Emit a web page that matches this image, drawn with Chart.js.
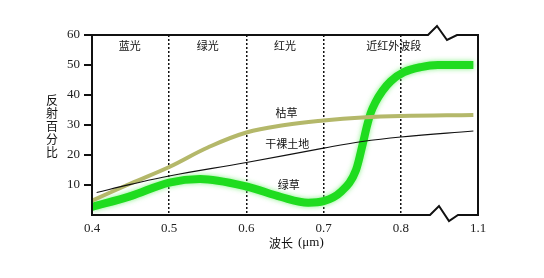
<!DOCTYPE html>
<html>
<head>
<meta charset="utf-8">
<script src="https://cdn.jsdelivr.net/npm/chart.js@4.4.1/dist/chart.umd.min.js"></script>
<style>
	html, body { margin: 0; padding: 0; background: #fff; }
	#wrap { width: 544px; height: 278px; }
</style>
</head>
<body>
<div id="wrap"><canvas id="chart" width="544" height="278"></canvas></div>
<script>
	// wavelength (µm) and reflectance (%)
	var greenX = [0.40, 0.45, 0.50, 0.54, 0.60, 0.645, 0.68, 0.70, 0.722, 0.742, 0.751, 0.756, 0.761, 0.767, 0.776, 0.787, 0.804, 0.826, 0.848, 0.894];
	var greenY = [2.7, 6.3, 10.8, 12, 9.5, 6, 4.1, 4.6, 7.6, 15, 24, 29.5, 34, 37.5, 41.3, 44.6, 47.6, 49.3, 50, 50];
	var dryX = [0.40, 0.45, 0.50, 0.55, 0.60, 0.65, 0.70, 0.75, 0.80, 0.894];
	var dryY = [4.8, 10.5, 16, 22.5, 27.5, 30, 31.5, 32.5, 33, 33.3];
	var soilX = [0.406, 0.45, 0.50, 0.60, 0.70, 0.75, 0.80, 0.894];
	var soilY = [7.5, 10.2, 13, 17.5, 22.3, 24.5, 26, 28];

	// last tick sits after the axis break and reads 1.1
	var xTickLabels = {'0.4': '0.4', '0.5': '0.5', '0.6': '0.6', '0.7': '0.7', '0.8': '0.8', '0.9': '1.1'};
	var bandLabels = ['蓝光', '绿光', '红光', '近红外波段'];
	var bandX = [0.449, 0.55, 0.65, 0.791];
	var curveLabels = ['枯草', '干裸土地', '绿草'];
	var curveLabelX = [0.652, 0.653, 0.655];
	var curveLabelY = [34, 23.7, 10];

	var cjkFont = '"Noto Sans CJK SC", sans-serif';

	function toPoints(xs, ys) {
		return xs.map(function (x, i) {
			return {x: x, y: ys[i]};
		});
	}

	var glowPlugin = {
		id: 'glow',
		beforeDatasetDraw: function (chart, args) {
			if (args.index === 2) {
				chart.ctx.save();
				chart.ctx.shadowColor = 'rgba(120,240,120,0.9)';
				chart.ctx.shadowBlur = 5;
			}
		},
		afterDatasetDraw: function (chart, args) {
			if (args.index === 2) {
				chart.ctx.restore();
			}
		}
	};

	var decorPlugin = {
		id: 'decor',
		afterDraw: function (chart) {
			var ctx = chart.ctx,
				a = chart.chartArea,
				xs = chart.scales.x,
				ys = chart.scales.y;

			// frame with the axis break
			ctx.save();
			ctx.strokeStyle = '#111';
			ctx.lineWidth = 2;
			ctx.lineJoin = 'miter';
			ctx.beginPath();
			ctx.moveTo(a.left, a.top);
			ctx.lineTo(a.left, a.bottom);
			ctx.lineTo(a.right - 48, a.bottom);
			ctx.lineTo(a.right - 39, a.bottom - 9);
			ctx.lineTo(a.right - 29, a.bottom + 6);
			ctx.lineTo(a.right - 20, a.bottom);
			ctx.lineTo(a.right, a.bottom);
			ctx.lineTo(a.right, a.top);
			ctx.lineTo(a.right - 21, a.top);
			ctx.lineTo(a.right - 31, a.top + 5);
			ctx.lineTo(a.right - 41, a.top - 9);
			ctx.lineTo(a.right - 50, a.top);
			ctx.lineTo(a.left, a.top);
			ctx.stroke();

			ctx.fillStyle = '#111';
			ctx.textAlign = 'center';
			ctx.textBaseline = 'middle';
			ctx.font = '11px ' + cjkFont;
			bandLabels.forEach(function (t, i) {
				ctx.fillText(t, xs.getPixelForValue(bandX[i]), a.top + 11);
			});
			curveLabels.forEach(function (t, i) {
				ctx.fillText(t, xs.getPixelForValue(curveLabelX[i]), ys.getPixelForValue(curveLabelY[i]));
			});

			// vertical y title
			ctx.font = '12px ' + cjkFont;
			'反射百分比'.split('').forEach(function (c, i) {
				ctx.fillText(c, 52, 100 + i * 13.2);
			});

			// x title
			ctx.font = '12px ' + cjkFont;
			ctx.textAlign = 'right';
			ctx.fillText('波长', 293, 243);
			ctx.textAlign = 'left';
			ctx.font = '13px "Liberation Serif", serif';
			ctx.fillText('(μm)', 298, 243);
			ctx.restore();
		}
	};

	new Chart(document.getElementById('chart'), {
		type: 'line',
		data: {
			datasets: [{
				label: '干裸土地',
				data: toPoints(soilX, soilY),
				borderColor: '#111',
				borderWidth: 1.2,
				tension: 0.4,
				pointRadius: 0
			}, {
				label: '枯草',
				data: toPoints(dryX, dryY),
				borderColor: '#b4b86a',
				borderWidth: 4,
				tension: 0.4,
				pointRadius: 0
			}, {
				label: '绿草',
				data: toPoints(greenX, greenY),
				borderColor: '#1fdc1f',
				borderWidth: 8,
				cubicInterpolationMode: 'monotone',
				borderCapStyle: 'butt',
				pointRadius: 0
			}]
		},
		options: {
			responsive: false,
			animation: false,
			layout: {padding: {left: 0, top: 35, right: 66, bottom: 0}},
			plugins: {
				legend: {display: false},
				tooltip: {enabled: false}
			},
			scales: {
				x: {
					type: 'linear',
					min: 0.4,
					max: 0.9,
					afterFit: function (axis) {
						axis.height = 63;
					},
					border: {display: false, dash: [2, 2]},
					grid: {
						drawTicks: false,
						color: function (c) {
							var v = Math.round(c.tick.value * 10) / 10;
							return (v > 0.45 && v < 0.85) ? '#111' : 'rgba(0,0,0,0)';
						},
						lineWidth: 1.5
					},
					ticks: {
						stepSize: 0.1,
						padding: 6,
						color: '#222',
						font: {family: '"Liberation Serif", serif', size: 13},
						callback: function (v) {
							return xTickLabels[(Math.round(v * 10) / 10).toFixed(1)] || '';
						}
					}
				},
				y: {
					min: 0,
					max: 60,
					afterFit: function (axis) {
						axis.width = 92;
					},
					border: {display: false},
					grid: {
						drawOnChartArea: false,
						drawTicks: true,
						tickLength: 8,
						lineWidth: 2,
						color: function (c) {
							return c.tick.value === 0 ? 'rgba(0,0,0,0)' : '#111';
						}
					},
					ticks: {
						stepSize: 10,
						padding: 4,
						color: '#222',
						font: {family: '"Liberation Serif", serif', size: 13},
						callback: function (v) {
							return v === 0 ? '' : v;
						}
					}
				}
			}
		},
		plugins: [glowPlugin, decorPlugin]
	});
</script>
</body>
</html>
